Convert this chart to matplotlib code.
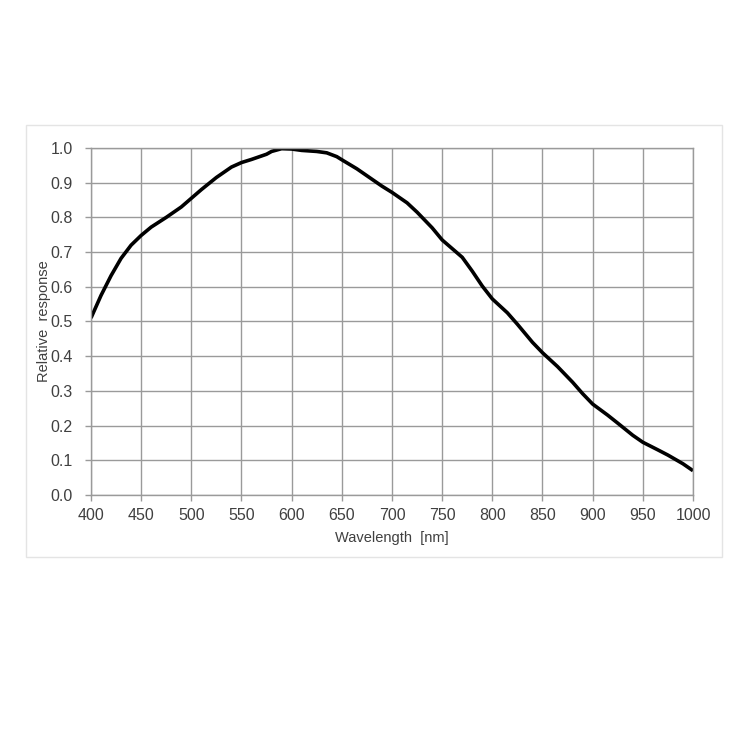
import matplotlib
matplotlib.use("Agg")
import matplotlib.pyplot as plt
from matplotlib.patches import Rectangle

plt.rcParams['font.family'] = ['Liberation Sans', 'DejaVu Sans']

# spectral response curve
wavelength = [400, 410, 420, 430, 440, 450, 460, 475, 490, 500, 510, 525, 540, 550,
              560, 575, 580, 590, 600, 610, 625, 635, 645, 650, 665, 680, 690, 700,
              715, 725, 740, 750, 760, 770, 780, 790, 800, 815, 825, 840, 850, 865,
              880, 890, 900, 915, 925, 940, 950, 965, 975, 990, 1000]
response = [0.51, 0.575, 0.632, 0.682, 0.72, 0.748, 0.772, 0.80, 0.83, 0.855, 0.88,
            0.915, 0.945, 0.958, 0.967, 0.982, 0.99, 0.998, 0.997, 0.993, 0.99,
            0.986, 0.975, 0.966, 0.94, 0.91, 0.89, 0.872, 0.842, 0.815, 0.77, 0.735,
            0.71, 0.685, 0.645, 0.602, 0.565, 0.525, 0.492, 0.44, 0.41, 0.37, 0.325,
            0.292, 0.262, 0.23, 0.207, 0.172, 0.152, 0.13, 0.115, 0.09, 0.07]

x_ticks = list(range(400, 1001, 50))
y_ticks = [i / 10 for i in range(0, 11)]

fig = plt.figure(figsize=(7.5, 7.5), dpi=100)
fig.patch.set_facecolor("white")
# light frame around the chart
fig.patches.append(Rectangle((0.0347, 0.2573), 0.928, 0.576, transform=fig.transFigure,
                             fill=False, edgecolor="#e4e4e4", linewidth=1.0))

ax = fig.add_axes([0.1213, 0.34, 0.8027, 0.4627])
ax.plot(wavelength, response, color="black", linewidth=2.6,
        solid_joinstyle="round", solid_capstyle="butt")

ax.set_xlim(400, 1000)
ax.set_ylim(0, 1.0)
ax.set_xticks(x_ticks)
ax.set_yticks(y_ticks)
ax.set_yticklabels(["%.1f" % v for v in y_ticks])
ax.grid(True, color="#9a9a9a", linewidth=1.0)
ax.set_axisbelow(True)
for s in ax.spines.values():
    s.set_color("#9a9a9a")
    s.set_linewidth(1.0)
ax.tick_params(axis="both", colors="#9a9a9a", labelcolor="#404040", labelsize=11.5,
               length=4, width=1.0)
ax.tick_params(axis="y", pad=9)
ax.tick_params(axis="x", pad=5)
ax.set_xlabel("Wavelength  [nm]", fontsize=10.5, color="#404040", labelpad=6)
ax.set_ylabel("Relative  response", fontsize=10.5, color="#404040", labelpad=0)

plt.savefig("out.png", dpi=100)
